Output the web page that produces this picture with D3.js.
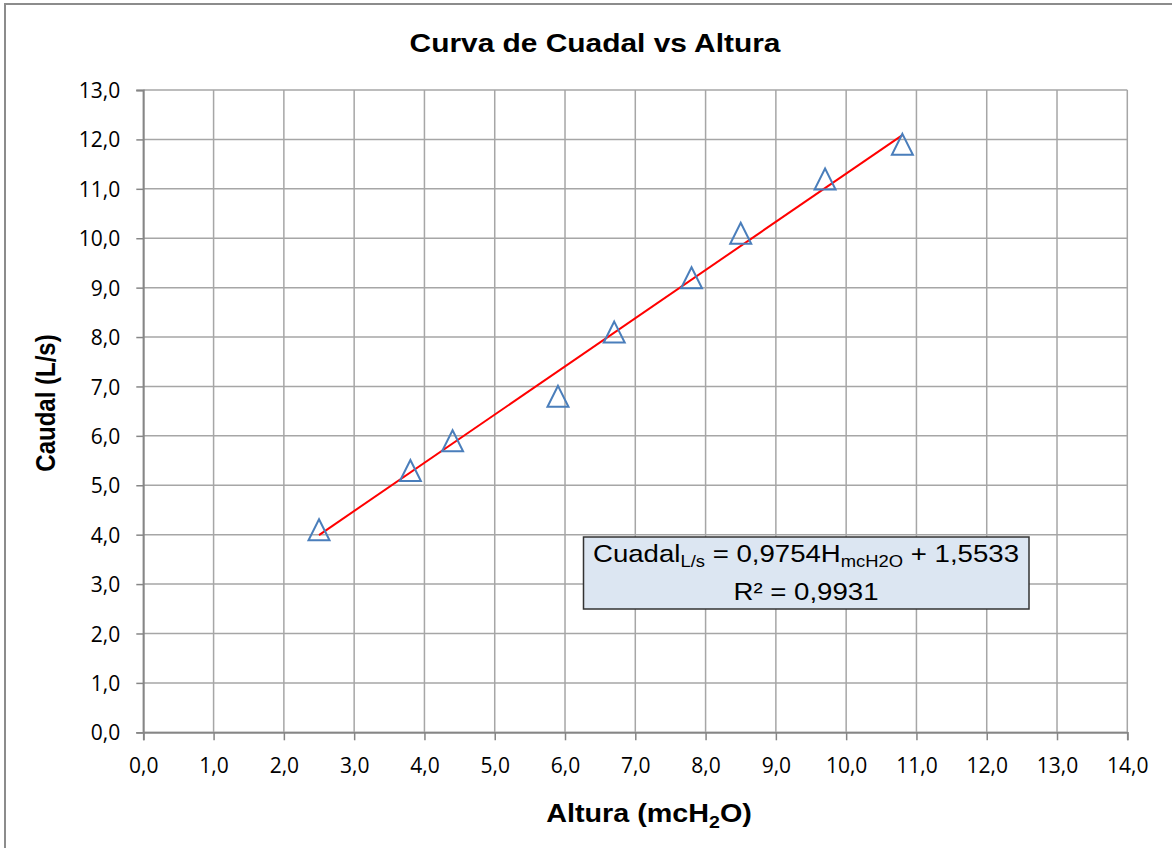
<!DOCTYPE html>
<html><head><meta charset="utf-8">
<script src="https://cdn.jsdelivr.net/npm/d3@7"></script>
<style>
html,body{margin:0;padding:0;background:#fff;}
svg{display:block;}
</style></head>
<body>
<svg id="chart" width="1172" height="848"></svg>
<script>
const altura = [2.5, 3.8, 4.4, 5.9, 6.7, 7.8, 8.5, 9.7, 10.8];
const caudal = [4.1, 5.3, 5.9, 6.8, 8.1, 9.2, 10.1, 11.2, 11.9];
const slope = 0.9754;
const intercept = 1.5533;
const xTicks = d3.range(0, 14.001, 1);
const yTicks = d3.range(0, 13.001, 1);
const fmt = v => v.toFixed(1).replace('.', ',');

const svg = d3.select('#chart');
const L = 143.3, R = 1127.3, T = 90, B = 732.3;
const x = d3.scaleLinear().domain([0, 14]).range([L, R]);
const y = d3.scaleLinear().domain([0, 13]).range([B, T]);
const SX = 1.15; // horizontal stretch of text as in the reference
const ARIAL = '"Liberation Sans", Arial, sans-serif';

// chart border
svg.append('rect').attr('x', 5).attr('y', 4).attr('width', 1200).attr('height', 900)
  .attr('fill', '#fff').attr('stroke', '#8c8c8c').attr('stroke-width', 2);

// gridlines
const g = svg.append('g');
g.selectAll('.vg').data(xTicks).join('line')
  .attr('x1', d => x(d)).attr('x2', d => x(d)).attr('y1', T).attr('y2', B)
  .attr('stroke', '#a6a6a6').attr('stroke-width', 1.5);
g.selectAll('.hg').data(yTicks).join('line')
  .attr('x1', L).attr('x2', R).attr('y1', d => y(d)).attr('y2', d => y(d))
  .attr('stroke', '#a6a6a6').attr('stroke-width', 1.5);

// axes
const xAxis = d3.axisBottom(x).tickValues(xTicks).tickFormat(fmt).tickSize(8).tickPadding(18);
const yAxis = d3.axisLeft(y).tickValues(yTicks).tickFormat(fmt).tickSize(7).tickPadding(16);
const gx = svg.append('g').attr('transform', `translate(0,${B})`).call(xAxis);
const gy = svg.append('g').attr('transform', `translate(${L},0)`).call(yAxis);
[gx, gy].forEach(a => {
  a.select('.domain').attr('stroke', '#868686').attr('stroke-width', 1.8);
  a.selectAll('.tick line').attr('stroke', '#868686').attr('stroke-width', 1.5);
  a.selectAll('.tick text').attr('fill', '#000')
    .style('font-family', '"Open Sans", sans-serif').style('font-size', '21px');
});
gy.selectAll('.tick text').attr('dy', '0.36em');
gx.selectAll('.tick text').attr('dy', '0.72em');

// trendline
const x0 = d3.min(altura), x1 = d3.max(altura);
svg.append('line')
  .attr('x1', x(x0)).attr('y1', y(slope * x0 + intercept))
  .attr('x2', x(x1)).attr('y2', y(slope * x1 + intercept))
  .attr('stroke', '#ff0000').attr('stroke-width', 2);

// markers (triangle, bbox centred on the point)
const triangle = { draw(ctx) { ctx.moveTo(0, -10.5); ctx.lineTo(10.5, 10.5); ctx.lineTo(-10.5, 10.5); ctx.closePath(); } };
const tri = d3.symbol().type(triangle);
svg.selectAll('.pt').data(altura.map((a, i) => [a, caudal[i]])).join('path')
  .attr('d', tri)
  .attr('transform', d => `translate(${x(d[0])},${y(d[1])})`)
  .attr('fill', 'none').attr('stroke', '#4a7ebb').attr('stroke-width', 2);

// title
svg.append('text').attr('transform', `translate(595,52) scale(${SX},1)`).attr('text-anchor', 'middle')
  .style('font-family', ARIAL).style('font-weight', 'bold')
  .style('font-size', '26px').text('Curva de Cuadal vs Altura');

// x axis title
const xt = svg.append('text').attr('transform', `translate(649,822) scale(${SX},1)`).attr('text-anchor', 'middle')
  .style('font-family', ARIAL).style('font-weight', 'bold')
  .style('font-size', '25px');
xt.append('tspan').text('Altura (mcH');
xt.append('tspan').attr('dy', 6).style('font-size', '17px').text('2');
xt.append('tspan').attr('dy', -6).text('O)');

// y axis title
svg.append('text').attr('transform', `translate(55,403) scale(${SX},1) rotate(-90)`).attr('text-anchor', 'middle')
  .style('font-family', ARIAL).style('font-weight', 'bold')
  .style('font-size', '24px').text('Caudal (L/s)');

// equation box
svg.append('rect').attr('x', 583.5).attr('y', 537).attr('width', 445.5).attr('height', 72)
  .attr('fill', '#dce6f2').attr('stroke', '#333').attr('stroke-width', 1.5);
const eq = svg.append('text').attr('transform', `translate(806,562) scale(${SX},1)`).attr('text-anchor', 'middle')
  .style('font-family', ARIAL).style('font-size', '24px');
eq.append('tspan').text('Cuadal');
eq.append('tspan').attr('dy', 5).style('font-size', '16px').text('L/s');
eq.append('tspan').attr('dy', -5).text(' = 0,9754H');
eq.append('tspan').attr('dy', 5).style('font-size', '16px').text('mcH2O');
eq.append('tspan').attr('dy', -5).text(' + 1,5533');
svg.append('text').attr('transform', `translate(806,600) scale(${SX},1)`).attr('text-anchor', 'middle')
  .style('font-family', ARIAL).style('font-size', '24px')
  .text('R² = 0,9931');
</script>
</body></html>
